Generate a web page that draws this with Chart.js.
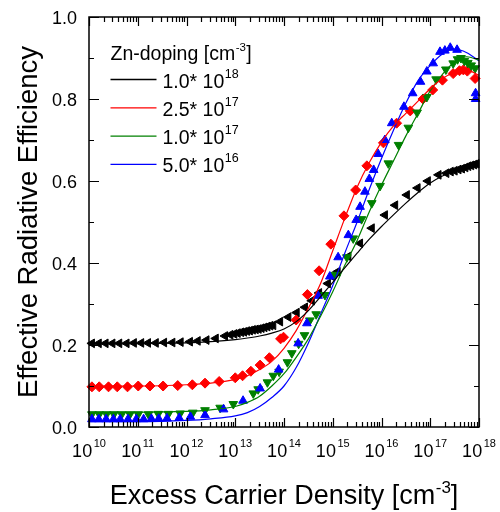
<!DOCTYPE html>
<html>
<head>
<meta charset="utf-8">
<script src="https://cdn.jsdelivr.net/npm/chart.js@4.4.1/dist/chart.umd.min.js"></script>
<style>
  html, body { margin: 0; padding: 0; background: #fff; }
  #wrap { width: 500px; height: 512px; }
</style>
</head>
<body>
<div id="wrap"><canvas id="chart" width="500" height="512"></canvas></div>
<script>
const FONT = '"Liberation Sans", Arial, sans-serif';

// x values are log10 of the excess carrier density (cm^-3)
const fitLogN = [10, 11, 12, 12.5, 13, 13.25, 13.5, 13.75, 14, 14.25, 14.5, 14.75, 15, 15.25, 15.5, 15.75, 16, 16.25, 16.5, 16.75, 17, 17.25, 17.5, 17.75, 18];
const blackFit = [0.203, 0.203, 0.205, 0.208, 0.213, 0.217, 0.222, 0.229, 0.239, 0.257, 0.284, 0.318, 0.353, 0.389, 0.424, 0.458, 0.489, 0.518, 0.546, 0.572, 0.595, 0.612, 0.625, 0.632, 0.635];
const redFit = [0.100, 0.100, 0.103, 0.107, 0.116, 0.125, 0.140, 0.160, 0.192, 0.235, 0.290, 0.350, 0.430, 0.510, 0.585, 0.645, 0.695, 0.735, 0.765, 0.795, 0.825, 0.850, 0.865, 0.870, 0.858];
const greenFit = [0.036, 0.036, 0.038, 0.042, 0.050, 0.060, 0.075, 0.100, 0.130, 0.170, 0.215, 0.270, 0.330, 0.395, 0.455, 0.525, 0.590, 0.650, 0.710, 0.765, 0.820, 0.860, 0.890, 0.903, 0.895];
const blueFit = [0.013, 0.013, 0.016, 0.020, 0.027, 0.035, 0.050, 0.072, 0.100, 0.145, 0.205, 0.275, 0.345, 0.425, 0.500, 0.580, 0.655, 0.725, 0.790, 0.845, 0.882, 0.910, 0.922, 0.913, 0.893];

const blackLogN = [10.06, 10.2, 10.34, 10.48, 10.62, 10.77, 10.92, 11.07, 11.21, 11.37, 11.54, 11.71, 11.88, 12.07, 12.23, 12.41, 12.6, 12.79, 12.9, 12.98, 13.05, 13.12, 13.18, 13.24, 13.3, 13.36, 13.42, 13.48, 13.54, 13.6, 13.66, 13.72, 13.78, 13.92, 14.09, 14.26, 14.43, 14.57, 14.72, 14.9, 14.99, 15.1, 15.32, 15.56, 15.8, 16.07, 16.28, 16.52, 16.74, 16.95, 17.17, 17.33, 17.42, 17.5, 17.58, 17.65, 17.72, 17.78, 17.84, 17.9, 17.95];
const blackEff = [0.204, 0.204, 0.204, 0.204, 0.204, 0.204, 0.205, 0.205, 0.205, 0.205, 0.206, 0.206, 0.207, 0.208, 0.210, 0.212, 0.216, 0.222, 0.225, 0.227, 0.229, 0.231, 0.232, 0.234, 0.235, 0.237, 0.238, 0.239, 0.241, 0.243, 0.245, 0.247, 0.248, 0.257, 0.268, 0.279, 0.292, 0.308, 0.327, 0.350, 0.367, 0.379, 0.416, 0.448, 0.485, 0.517, 0.541, 0.566, 0.583, 0.600, 0.615, 0.619, 0.623, 0.625, 0.628, 0.630, 0.633, 0.636, 0.638, 0.640, 0.642];

const redLogN = [10.06, 10.21, 10.4, 10.58, 10.79, 11.01, 11.25, 11.52, 11.82, 12.12, 12.38, 12.67, 13.0, 13.15, 13.32, 13.51, 13.7, 13.93, 13.99, 14.25, 14.48, 14.72, 14.96, 15.23, 15.47, 15.7, 16.04, 16.31, 16.59, 16.85, 17.05, 17.25, 17.47, 17.6, 17.68, 17.76, 17.92];
const redEff = [0.098, 0.098, 0.098, 0.098, 0.098, 0.100, 0.100, 0.100, 0.101, 0.103, 0.107, 0.111, 0.120, 0.125, 0.136, 0.151, 0.169, 0.215, 0.219, 0.261, 0.323, 0.381, 0.446, 0.515, 0.578, 0.637, 0.693, 0.741, 0.771, 0.800, 0.822, 0.846, 0.862, 0.869, 0.871, 0.868, 0.850];

const greenLogN = [10.06, 10.21, 10.36, 10.51, 10.67, 10.84, 11.01, 11.22, 11.42, 11.63, 11.87, 12.13, 12.38, 12.69, 12.96, 13.37, 13.47, 13.66, 13.78, 13.9, 14.07, 14.16, 14.3, 14.42, 14.53, 14.66, 14.84, 15.05, 15.29, 15.42, 15.59, 15.8, 15.97, 16.14, 16.35, 16.55, 16.73, 16.93, 17.12, 17.32, 17.47, 17.56, 17.63, 17.7, 17.77, 17.84, 17.92];
const greenEff = [0.031, 0.031, 0.031, 0.031, 0.031, 0.031, 0.031, 0.031, 0.032, 0.032, 0.033, 0.035, 0.041, 0.047, 0.056, 0.082, 0.092, 0.109, 0.125, 0.135, 0.158, 0.180, 0.203, 0.224, 0.260, 0.275, 0.322, 0.371, 0.414, 0.460, 0.507, 0.546, 0.588, 0.643, 0.688, 0.730, 0.767, 0.805, 0.848, 0.872, 0.887, 0.897, 0.900, 0.893, 0.888, 0.882, 0.875];

const blueLogN = [10.06, 10.2, 10.35, 10.5, 10.64, 10.8, 10.97, 11.12, 11.28, 11.43, 11.6, 11.85, 12.08, 12.38, 12.76, 13.16, 13.51, 13.89, 14.29, 14.47, 14.7, 14.94, 15.11, 15.32, 15.48, 15.56, 15.66, 15.75, 15.84, 15.93, 16.07, 16.21, 16.46, 16.64, 16.8, 16.93, 17.06, 17.2, 17.3, 17.41, 17.55, 17.93, 17.93];
const blueEff = [0.019, 0.019, 0.019, 0.019, 0.019, 0.019, 0.019, 0.019, 0.020, 0.020, 0.021, 0.022, 0.025, 0.029, 0.043, 0.064, 0.094, 0.140, 0.204, 0.253, 0.320, 0.367, 0.414, 0.468, 0.505, 0.537, 0.574, 0.605, 0.627, 0.666, 0.700, 0.741, 0.781, 0.814, 0.842, 0.867, 0.887, 0.915, 0.918, 0.925, 0.920, 0.814, 0.800];

const xTickExps = [10, 11, 12, 13, 14, 15, 16, 17, 18];
const yTicks = [0, 0.2, 0.4, 0.6, 0.8, 1.0];
const yTickLabels = ['0.0', '0.2', '0.4', '0.6', '0.8', '1.0'];
const yMinorTicks = [0.1, 0.3, 0.5, 0.7, 0.9];

const dopingMantissa = ['1.0', '2.5', '1.0', '5.0'];
const dopingExp = ['18', '17', '17', '16'];
const seriesColors = ['#000000', '#ff0000', '#008000', '#0000ff'];

function toPoints(logN, vals) {
    return logN.map((e, i) => ({ x: Math.pow(10, e), y: vals[i] }));
}

// draws runs of text, each with its own size and rise (for superscripts)
function drawRuns(ctx, runs, x, y, align) {
    let total = 0;
    const widths = runs.map(r => {
        ctx.font = `${r.size}px ${FONT}`;
        const w = ctx.measureText(r.text).width + (r.gap || 0);
        total += w;
        return w;
    });
    let cx = align === 'center' ? x - total / 2 : x;
    ctx.textAlign = 'left';
    ctx.textBaseline = 'alphabetic';
    runs.forEach((r, i) => {
        ctx.font = `${r.size}px ${FONT}`;
        ctx.fillText(r.text, cx + (r.gap || 0), y - (r.rise || 0));
        cx += widths[i];
    });
}

const axesPlugin = {
    id: 'axesPlugin',
    afterDraw(chart) {
        const { ctx, chartArea: a, scales } = chart;
        const xs = scales.x, ys = scales.y;
        ctx.save();
        ctx.strokeStyle = '#000';
        ctx.fillStyle = '#000';
        ctx.lineWidth = 1.5;
        ctx.strokeRect(a.left, a.top, a.right - a.left, a.bottom - a.top);

        ctx.lineWidth = 1.2;
        ctx.beginPath();
        // x ticks, inward on bottom and top
        xTickExps.forEach((e, i) => {
            const px = Math.round(xs.getPixelForValue(Math.pow(10, e))) + 0.5;
            ctx.moveTo(px, a.bottom); ctx.lineTo(px, a.bottom - 9);
            ctx.moveTo(px, a.top); ctx.lineTo(px, a.top + 9);
            if (i < xTickExps.length - 1) {
                for (let m = 2; m <= 9; m++) {
                    const mx = Math.round(xs.getPixelForValue(m * Math.pow(10, e))) + 0.5;
                    ctx.moveTo(mx, a.bottom); ctx.lineTo(mx, a.bottom - 5);
                    ctx.moveTo(mx, a.top); ctx.lineTo(mx, a.top + 5);
                }
            }
        });
        // y ticks, inward on left and right
        yTicks.forEach(v => {
            const py = Math.round(ys.getPixelForValue(v)) + 0.5;
            ctx.moveTo(a.left, py); ctx.lineTo(a.left + 10, py);
            ctx.moveTo(a.right, py); ctx.lineTo(a.right - 10, py);
        });
        yMinorTicks.forEach(v => {
            const py = Math.round(ys.getPixelForValue(v)) + 0.5;
            ctx.moveTo(a.left, py); ctx.lineTo(a.left + 5, py);
            ctx.moveTo(a.right, py); ctx.lineTo(a.right - 5, py);
        });
        ctx.stroke();

        // tick labels
        ctx.font = `18px ${FONT}`;
        ctx.textAlign = 'right';
        ctx.textBaseline = 'alphabetic';
        yTicks.forEach((v, i) => {
            ctx.fillText(yTickLabels[i], 77, ys.getPixelForValue(v) + 6.5);
        });
        xTickExps.forEach(e => {
            const px = xs.getPixelForValue(Math.pow(10, e));
            drawRuns(ctx, [
                { text: '10', size: 18 },
                { text: String(e), size: 11, rise: 10, gap: 1.5 }
            ], px, 456.5, 'center');
        });

        // axis titles
        drawRuns(ctx, [
            { text: 'Excess Carrier Density [cm', size: 27 },
            { text: '-3', size: 17, rise: 11, gap: 0.5 },
            { text: ']', size: 27 }
        ], (a.left + a.right) / 2, 504, 'center');

        ctx.save();
        ctx.translate(37, (a.top + a.bottom) / 2);
        ctx.rotate(-Math.PI / 2);
        ctx.font = `27.5px ${FONT}`;
        ctx.textAlign = 'center';
        ctx.fillText('Effective Radiative Efficiency', 0, 0);
        ctx.restore();

        // legend
        drawRuns(ctx, [
            { text: 'Zn-doping [cm', size: 19.5 },
            { text: '-3', size: 11.5, rise: 9, gap: 0.5 },
            { text: ']', size: 19.5, gap: 0.5 }
        ], 110.5, 59.5, 'left');
        dopingMantissa.forEach((mant, i) => {
            const ly = 79.5 + i * 28.3;
            ctx.strokeStyle = seriesColors[i];
            ctx.lineWidth = 1.3;
            ctx.beginPath();
            ctx.moveTo(110.5, ly); ctx.lineTo(156.5, ly);
            ctx.stroke();
            ctx.fillStyle = '#000';
            drawRuns(ctx, [
                { text: mant + '* 10', size: 19.5 },
                { text: dopingExp[i], size: 12.5, rise: 10, gap: 0.5 }
            ], 162.5, ly + 8, 'left');
        });
        ctx.restore();
    }
};

function fitSet(vals, color) {
    return {
        data: toPoints(fitLogN, vals),
        showLine: true,
        borderColor: color,
        borderWidth: 1.2,
        pointRadius: 0,
        cubicInterpolationMode: 'monotone',
        fill: false,
        clip: false
    };
}

function markerSet(logN, vals, color, style, rotation) {
    return {
        data: toPoints(logN, vals),
        showLine: false,
        pointStyle: style,
        rotation: rotation,
        pointRadius: 5,
        pointBorderWidth: 1,
        backgroundColor: color,
        borderColor: color,
        clip: false
    };
}

const ctx = document.getElementById('chart').getContext('2d');
new Chart(ctx, {
    type: 'scatter',
    data: {
        datasets: [
            fitSet(blackFit, '#000000'),
            fitSet(redFit, '#ff0000'),
            fitSet(greenFit, '#008000'),
            fitSet(blueFit, '#0000ff'),
            markerSet(blueLogN, blueEff, '#0000ff', 'triangle', 0),
            markerSet(greenLogN, greenEff, '#008000', 'triangle', 180),
            markerSet(redLogN, redEff, '#ff0000', 'rectRot', 0),
            markerSet(blackLogN, blackEff, '#000000', 'triangle', 270)
        ]
    },
    options: {
        responsive: false,
        devicePixelRatio: 1,
        animation: false,
        layout: { padding: { left: 89, right: 21, top: 17, bottom: 85 } },
        plugins: { legend: { display: false }, tooltip: { enabled: false } },
        scales: {
            x: { type: 'logarithmic', min: 1e10, max: 1e18, display: false },
            y: { type: 'linear', min: 0, max: 1, display: false }
        }
    },
    plugins: [axesPlugin]
});
</script>
</body>
</html>
